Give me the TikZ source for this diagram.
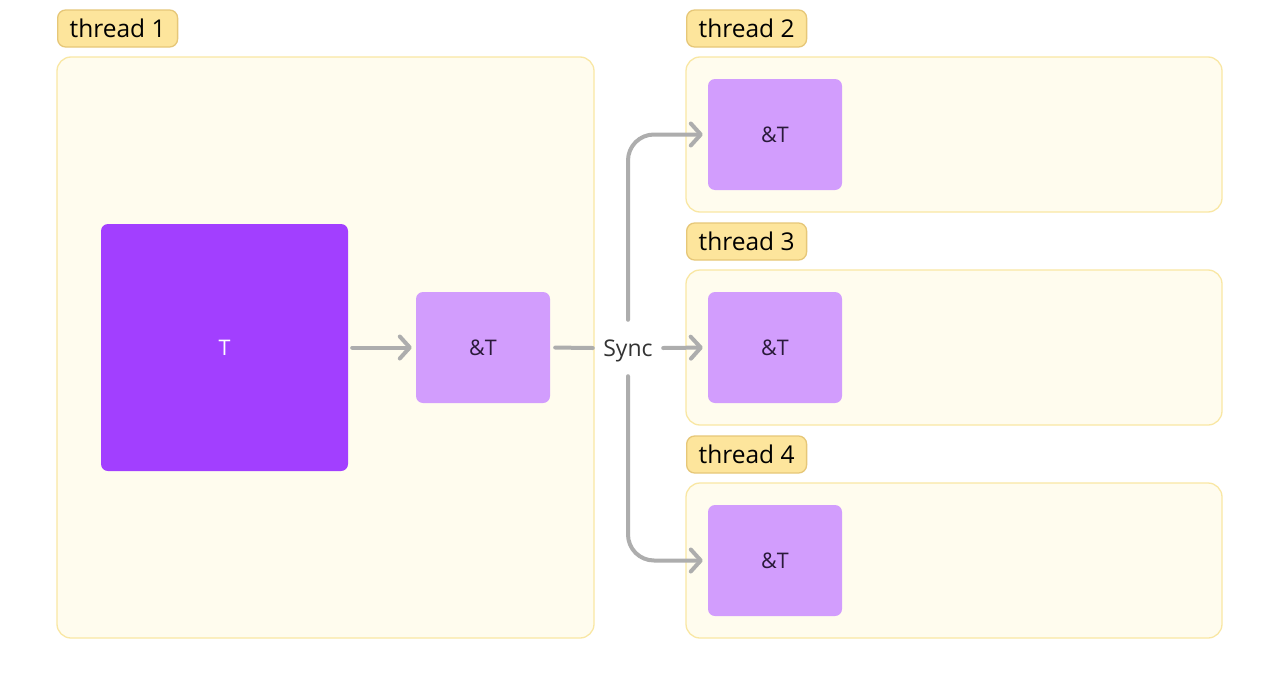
\documentclass[tikz,border=0pt]{standalone}
\usepackage{fontspec}
\setmainfont{Open Sans}
\usetikzlibrary{arrows.meta}
\definecolor{lblfill}{HTML}{FDE59C}
\definecolor{lblborder}{HTML}{E6C778}
\definecolor{boxfill}{HTML}{FFFCEE}
\definecolor{boxborder}{HTML}{F9E7A4}
\definecolor{tfill}{HTML}{A23FFF}
\definecolor{reffill}{HTML}{D29DFD}
\definecolor{conn}{HTML}{ADADAD}
\definecolor{reftext}{HTML}{2A1A3A}
\tikzset{
  lbl/.style={draw=lblborder, fill=lblfill, line width=1.3pt, rounded corners=8pt,
    anchor=west, minimum height=37pt, inner xsep=12pt, inner ysep=0pt,
    font=\fontsize{24.5}{28}\selectfont, text=black, text height=18pt, text depth=0pt},
  container/.style={draw=boxborder, fill=boxfill, line width=1.3pt, rounded corners=14pt, inner sep=0pt},
  bigT/.style={fill=tfill, rounded corners=7pt, minimum width=247pt, minimum height=247pt,
    inner sep=0pt, text=white, font=\fontsize{21.5}{24}\selectfont, text height=15.3pt, text depth=0pt},
  refbox/.style={fill=reffill, rounded corners=7pt, minimum width=134pt, minimum height=111pt,
    inner sep=0pt, text=reftext, font=\fontsize{21.5}{24}\selectfont, text height=15.3pt, text depth=0pt},
  conline/.style={draw=conn, line width=4pt, line cap=round, line join=round},
  tip/.style={-{Straight Barb[length=10pt,width=22pt,round]}}
}
\begin{document}
\begin{tikzpicture}[x=1pt,y=-1pt]
\useasboundingbox (0,0) rectangle (1280,696);
\fill[white] (0,0) rectangle (1280,696);
% containers
\node[container, minimum width=537pt, minimum height=581pt] (c1) at (325.5,347.5) {};
\node[container, minimum width=536pt, minimum height=155pt] (c2) at (954,134.5) {};
\node[container, minimum width=536pt, minimum height=155pt] (c3) at (954,347.5) {};
\node[container, minimum width=536pt, minimum height=155pt] (c4) at (954,560.5) {};
% labels
\node[lbl] (l1) at (57,28.5) {thread 1};
\node[lbl] (l2) at (686,28.5) {thread 2};
\node[lbl] (l3) at (686,241.5) {thread 3};
\node[lbl] (l4) at (686,454.5) {thread 4};
% boxes
\node[bigT] (t) at (224.5,347.5) {T};
\node[refbox] (r1) at (483,347.5) {\&T};
\node[refbox] (r2) at (775,134.5) {\&T};
\node[refbox] (r3) at (775,347.5) {\&T};
\node[refbox] (r4) at (775,560.5) {\&T};
% sync
\node[minimum width=70pt, minimum height=56pt, inner sep=0pt, text=black!80,
  font=\fontsize{23}{26}\selectfont, text height=16.4pt, text depth=0pt] (sync) at (628,348) {Sync};
% connectors
\draw[conline, tip, shorten <=4pt, shorten >=4pt] (t.east) -- (r1.west);
\draw[conline, shorten <=5pt] (r1.east) -- (sync.west);
\draw[conline, tip, shorten >=5pt] (sync.east) -- (r3.west);
\draw[conline, tip, rounded corners=26pt, shorten >=5pt] (sync.north) |- (r2.west);
\draw[conline, tip, rounded corners=26pt, shorten >=5pt] (sync.south) |- (r4.west);
\end{tikzpicture}
\end{document}
